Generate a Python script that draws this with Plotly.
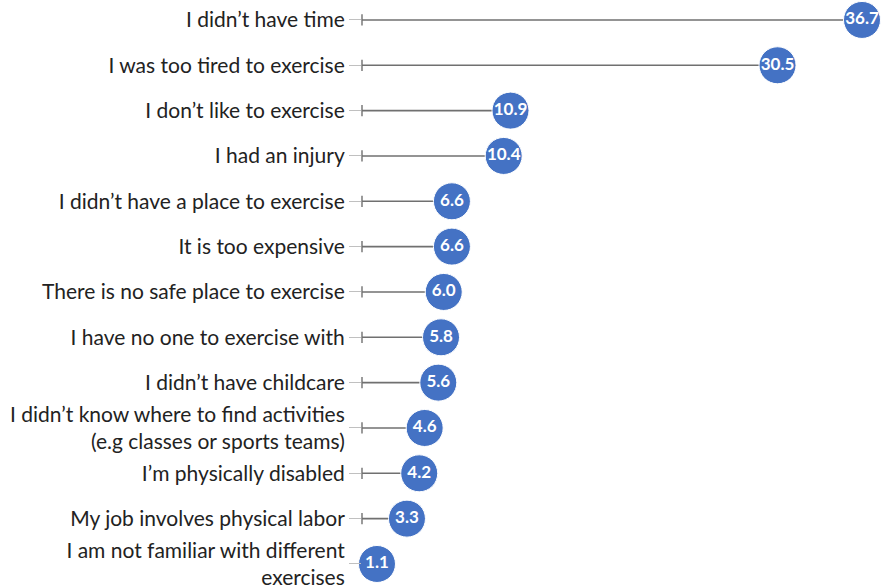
import plotly.graph_objects as go

# Reasons for not exercising (percent of respondents)
reasons = [
    "I didn’t have time",
    "I was too tired to exercise",
    "I don’t like to exercise",
    "I had an injury",
    "I didn’t have a place to exercise",
    "It is too expensive",
    "There is no safe place to exercise",
    "I have no one to exercise with",
    "I didn’t have childcare",
    "I didn’t know where to find activities<br>(e.g classes or sports teams)",
    "I’m physically disabled",
    "My job involves physical labor",
    "I am not familiar with different<br>exercises",
]
percent = [36.7, 30.5, 10.9, 10.4, 6.6, 6.6, 6.0, 5.8, 5.6, 4.6, 4.2, 3.3, 1.1]

rows = list(range(len(reasons)))
stem_color = "#707070"

# stems from zero to each value
stem_x, stem_y = [], []
for r, v in zip(rows, percent):
    stem_x += [0, v, None]
    stem_y += [r, r, None]

fig = go.Figure()

fig.add_trace(go.Scatter(
    x=stem_x, y=stem_y, mode="lines",
    line=dict(color=stem_color, width=1.6),
    hoverinfo="skip", showlegend=False, cliponaxis=False,
))

# small end cap at the zero end of each stem
fig.add_trace(go.Scatter(
    x=[0] * len(rows), y=rows, mode="markers",
    marker=dict(symbol="line-ns-open", size=8, color=stem_color,
                line=dict(color=stem_color, width=1.4)),
    hoverinfo="skip", showlegend=False, cliponaxis=False,
))

fig.add_trace(go.Scatter(
    x=percent, y=rows, mode="markers+text",
    marker=dict(size=37, color="#4472C4",
                line=dict(color="white", width=1)),
    text=[f"{v:.1f}" for v in percent],
    textposition="middle center",
    textfont=dict(family="Lato", size=17, color="white", weight="bold"),
    showlegend=False, cliponaxis=False,
))

fig.update_layout(
    width=883, height=588,
    margin=dict(l=362, r=21, t=0, b=0),
    paper_bgcolor="white", plot_bgcolor="white",
    font=dict(family="Lato", size=21, color="#222222"),
)

fig.update_xaxes(range=[0, 36.7], visible=False, showgrid=False, zeroline=False)
fig.update_yaxes(
    range=[12.53, -0.44],
    tickmode="array", tickvals=rows, ticktext=reasons,
    ticks="outside", ticklen=12, tickcolor="#c0c0c0", tickwidth=1.2,
    ticklabeloverflow="allow",
    showgrid=False, zeroline=False, showline=False,
)

fig.write_html("out.html")
